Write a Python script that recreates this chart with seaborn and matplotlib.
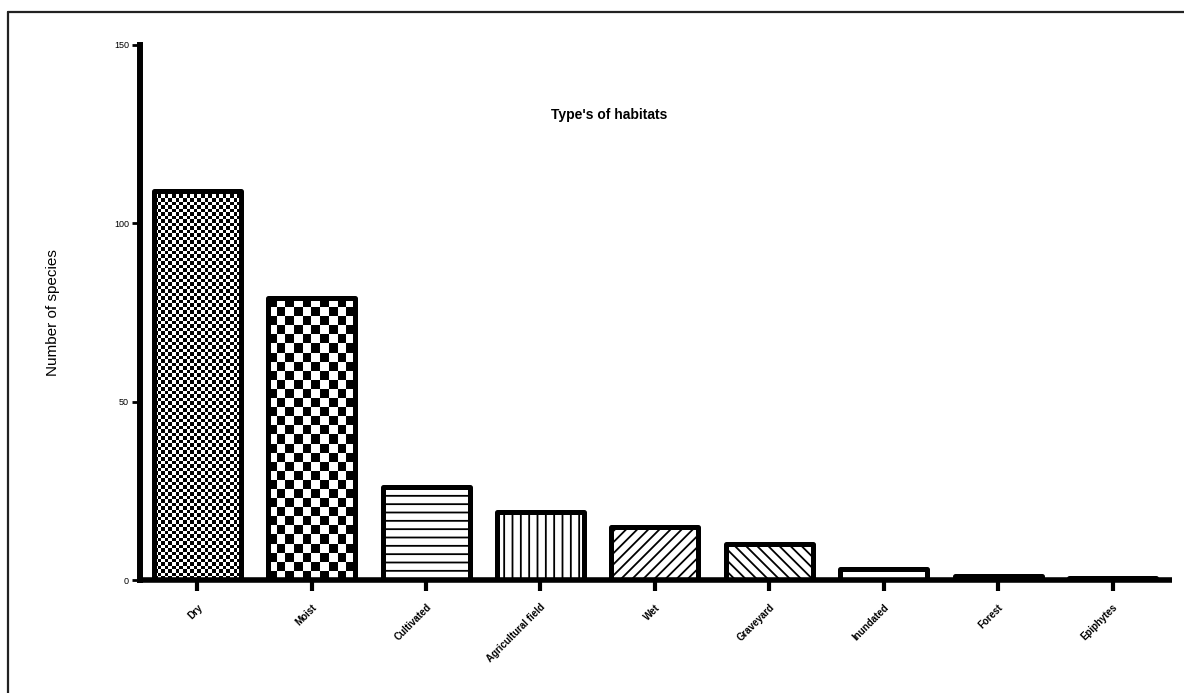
import numpy as np
import matplotlib
matplotlib.use("Agg")
import matplotlib.pyplot as plt
import seaborn as sns
from matplotlib.lines import Line2D

# data
habitats = ["Dry", "Moist", "Cultivated", "Agricultural field", "Wet",
            "Graveyard", "Inundated", "Forest", "Epiphytes"]
species = [109, 79, 26, 19, 15, 10, 3, 1, 0.5]
yticks = [0, 50, 100, 150]

sns.set_style("ticks")
plt.rcParams["font.family"] = ["Liberation Sans", "DejaVu Sans"]
plt.rcParams["hatch.linewidth"] = 1.3
for k in ["axes.edgecolor", "xtick.color", "ytick.color", "text.color", "axes.labelcolor"]:
    plt.rcParams[k] = "black"

fig = plt.figure(figsize=(11.84, 6.93), dpi=100)
W, H = 1184, 693
ax = fig.add_axes([140 / W, 1 - 580 / H, (1172 - 140) / W, (580 - 45) / H])

sns.barplot(x=habitats, y=species, color="white", saturation=1,
            edgecolor="black", linewidth=3.6, width=0.76, ax=ax)

bars = ax.patches
hatches = [None, None, "--", "||", "///", "\\\\\\", "--", None, None]
for p, h in zip(bars, hatches):
    p.set_joinstyle("round")
    p.set_zorder(2)
    if h:
        p.set_hatch(h)

# checkerboard fills for the first two bars
for p, (ncol, nrow) in zip(bars[:2], [(24, 111), (10, 31)]):
    x0, w, hgt = p.get_x(), p.get_width(), p.get_height()
    r, c = np.indices((nrow, ncol))
    board = ((r + c) % 2).astype(float)
    im = ax.imshow(board, cmap="gray", extent=(x0, x0 + w, 0, hgt),
                   aspect="auto", interpolation="nearest", zorder=1)
    im.set_clip_path(p)
    p.set_facecolor("none")

ax.set_xlim(-0.5, 8.52)
ax.set_ylim(0, 150)
ax.set_yticks(yticks)
ax.set_yticklabels([str(v) for v in yticks], fontsize=6.5)
ax.set_xticks(range(len(habitats)))
ax.set_xticklabels(habitats, rotation=45, ha="right", rotation_mode="anchor",
                   fontsize=7, fontweight="bold")
ax.tick_params(axis="x", length=8, width=3, pad=8)
ax.tick_params(axis="y", length=6, width=2, pad=2)

for s in ["top", "right"]:
    ax.spines[s].set_visible(False)
ax.spines["left"].set_linewidth(4.3)
ax.spines["bottom"].set_linewidth(4)
ax.spines["bottom"].set_capstyle("butt")

ax.set_ylabel("Number of species", fontsize=11)
ax.yaxis.set_label_coords(-0.078, 0.5)
ax.text(0.455, 0.869, "Type's of habitats", transform=ax.transAxes,
        ha="center", va="center", fontsize=10, fontweight="bold")

# outer frame (left and top edges visible)
fig.add_artist(Line2D([8 / W, 8 / W], [0, 1 - 12 / H], transform=fig.transFigure,
                      color="#222222", lw=1.6))
fig.add_artist(Line2D([8 / W, 1], [1 - 12 / H, 1 - 12 / H], transform=fig.transFigure,
                      color="#222222", lw=1.6))

fig.savefig("out.png", dpi=100)
